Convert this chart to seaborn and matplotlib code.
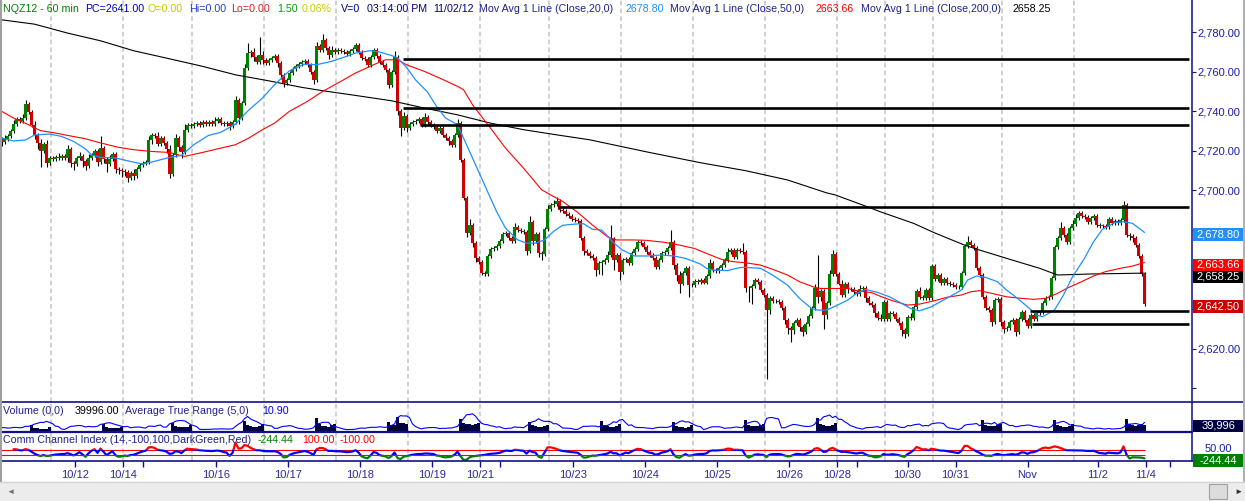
import numpy as np
import pandas as pd
import matplotlib
matplotlib.use("Agg")
import matplotlib.pyplot as plt
from matplotlib.patches import Rectangle
from matplotlib.lines import Line2D
import seaborn as sns

# ---------------- data (NQZ12, 60 min bars) ----------------
first_open = 2726.0
session_len = [17, 24, 23, 24, 24, 24, 24, 23, 24, 24, 24, 24, 16, 16, 23, 24, 24]
has_rth = [1, 1, 1, 1, 1, 1, 1, 1, 1, 1, 1, 1, 0, 0, 1, 1, 1]

close = [
    # 10/11
    2724.5, 2726, 2727.5, 2730, 2733.5, 2736, 2735, 2736.5, 2743.5, 2739.5, 2733, 2728, 2724, 2720, 2723.5, 2714, 2716.5,
    # 10/12
    2716, 2717, 2716.5, 2717.5, 2716.5, 2721, 2714, 2713.5, 2716.5, 2717.5, 2715, 2712.5, 2716.5, 2718, 2720, 2714.5, 2721.5, 2716, 2713.5, 2716, 2718.5, 2711, 2710.5, 2710,
    # 10/15
    2709.5, 2706.5, 2709, 2707.5, 2711, 2713, 2714, 2714.5, 2725.5, 2728, 2727.5, 2723.5, 2726.5, 2724, 2721, 2708.5, 2718, 2726.5, 2722, 2719.5, 2730.5, 2733, 2732.5,
    # 10/16
    2733.5, 2734, 2733, 2734.5, 2733.5, 2734.5, 2733.5, 2735, 2736, 2734, 2733.5, 2734, 2732.5, 2734.5, 2745.5, 2736.5, 2744, 2762, 2769.5, 2770, 2767.5, 2765, 2768.5, 2766,
    # 10/17
    2764.5, 2766, 2767, 2768, 2764.5, 2758.5, 2754.5, 2756, 2759.5, 2761.5, 2763, 2764, 2765, 2765.5, 2763.5, 2760, 2756, 2773, 2771, 2776, 2772, 2768.5, 2771, 2770,
    # 10/18
    2771, 2770.5, 2770, 2769, 2770.5, 2771.5, 2773.5, 2770, 2767, 2766.5, 2763.5, 2767.5, 2771, 2768, 2765, 2763.5, 2761, 2753.5, 2760, 2767.5, 2740, 2731.5, 2737.5, 2731.5,
    # 10/19
    2733.5, 2734.5, 2735, 2736, 2733, 2737, 2734.5, 2733, 2732, 2730, 2731.5, 2728, 2726.5, 2725, 2723, 2728, 2734, 2715.5, 2696, 2678.5, 2682.5, 2673.5, 2666, 2664,
    # 10/22
    2658.5, 2658, 2667, 2670.5, 2671, 2672, 2674.5, 2678, 2678.5, 2676, 2674.5, 2681.5, 2680, 2679.5, 2679, 2669.5, 2684, 2674.5, 2678, 2668.5, 2668, 2680.5, 2690.5,
    # 10/23
    2692.5, 2693, 2694.5, 2690, 2689.5, 2688, 2687, 2685.5, 2685, 2684.5, 2676, 2669.5, 2668.5, 2667, 2666, 2660, 2663.3, 2664, 2665, 2667.4, 2675.3, 2665, 2667.4, 2659,
    # 10/24
    2665, 2665.5, 2663.5, 2668.3, 2670.4, 2674, 2673.4, 2671.6, 2669, 2667.4, 2666, 2661.5, 2665, 2668.4, 2669, 2671, 2674, 2662.3, 2657.3, 2653, 2658.3, 2661, 2652.2, 2652,
    # 10/25
    2654.2, 2654, 2654.7, 2653.5, 2656.8, 2663.5, 2660, 2659.5, 2661, 2662.3, 2665, 2669, 2670, 2666.5, 2670, 2669.5, 2669, 2650.7, 2650.5, 2651.7, 2654.7, 2654, 2649.7, 2647.2,
    # 10/26
    2639.6, 2645.5, 2644.3, 2644, 2643.5, 2640.4, 2634.5, 2630.3, 2629.4, 2632.9, 2634.5, 2631.2, 2628.6, 2632.5, 2636.6, 2640.4, 2650.5, 2646, 2649, 2637, 2643, 2658, 2668, 2658,
    # 10/29
    2653, 2647.2, 2652.7, 2650, 2650, 2648.8, 2647.7, 2650, 2650.5, 2645.7, 2643.3, 2642, 2638, 2635.6, 2635, 2643.8,
    # 10/30
    2635, 2638, 2637.5, 2635, 2633.2, 2629.5, 2627.5, 2636, 2635.5, 2641.3, 2649.2, 2646, 2645.8, 2649.7, 2645.5, 2662,
    # 10/31
    2655.5, 2657.3, 2653.4, 2655.5, 2653.2, 2652.7, 2652.2, 2651.4, 2651, 2658.4, 2672, 2674, 2672.4, 2670.7, 2661, 2657.3, 2646, 2640.4, 2639.5, 2633.7, 2644.6, 2645, 2633.7,
    # 11/1
    2629.8, 2630.3, 2633.7, 2634.5, 2628.6, 2635, 2638.7, 2634.5, 2631.5, 2637, 2635, 2638, 2638.7, 2643.3, 2645.5, 2646.3, 2655.6, 2671.6, 2675.8, 2680.9, 2677.5, 2674, 2681, 2683,
    # 11/2
    2686, 2688.4, 2687, 2686.5, 2684.2, 2686, 2687, 2682.5, 2682, 2682, 2681.5, 2685.4, 2683.5, 2684.5, 2683.5, 2685, 2692.6, 2677.5, 2677, 2676, 2672.4, 2666.9, 2658, 2642.5,
]

# upper / lower shadow beyond the candle body, in points
wick_hi = [
    1, 2, 1, 1, 2, 1, 1, 2, 2, 1, 1, 2, 1, 2, 1, 2, 1,
    1, 1, 2, 1, 1, 2, 1, 1, 1, 2, 1, 1, 2, 1, 1, 1, 6, 1, 1, 2, 1, 1, 1, 1,
    1, 1, 1, 2, 1, 1, 1, 1, 2, 1, 1, 2, 1, 1, 1, 2, 1, 2, 1, 1, 3, 1, 1,
    1, 1, 1, 1, 1, 1, 1, 2, 1, 1, 1, 1, 1, 1, 2, 1, 1, 2, 5, 1, 2, 1, 9, 2,
    1, 1, 1, 1, 1, 1, 1, 1, 1, 1, 1, 1, 1, 1, 1, 1, 1, 2, 1, 3, 1, 1, 2, 1,
    1, 1, 1, 1, 1, 1, 1, 1, 1, 1, 1, 1, 1, 1, 1, 1, 1, 1, 1, 3, 1, 1, 2, 1,
    1, 1, 1, 1, 1, 2, 1, 1, 1, 1, 1, 1, 1, 1, 1, 1, 2, 1, 1, 1, 3, 1, 1, 1,
    1, 1, 1, 1, 1, 1, 1, 1, 1, 1, 1, 2, 1, 1, 1, 1, 3, 1, 1, 1, 1, 1, 2,
    1, 2, 2, 1, 1, 1, 1, 1, 1, 1, 1, 1, 1, 1, 1, 1, 1, 1, 1, 2, 7, 1, 1, 1,
    1, 1, 1, 1, 1, 1, 1, 1, 1, 1, 1, 1, 1, 1, 1, 1, 6, 1, 1, 2, 1, 1, 1, 1,
    1, 1, 1, 1, 1, 2, 1, 1, 1, 1, 1, 2, 1, 1, 1, 1, 4, 1, 1, 1, 1, 1, 1, 1,
    1, 1, 1, 1, 1, 1, 1, 1, 1, 1, 1, 1, 1, 1, 1, 1, 2, 17, 1, 1, 1, 2, 2, 1,
    1, 2, 1, 1, 1, 1, 1, 2, 1, 1, 1, 1, 1, 1, 2, 1,
    1, 1, 1, 1, 1, 1, 1, 1, 2, 1, 1, 2, 1, 1, 1, 1,
    1, 1, 1, 1, 1, 1, 1, 1, 1, 1, 1, 3, 1, 1, 1, 1, 1, 1, 1, 1, 1, 1, 1,
    1, 1, 1, 1, 1, 1, 1, 1, 1, 1, 1, 1, 1, 1, 1, 1, 1, 1, 1, 3, 1, 1, 1, 2,
    2, 1, 1, 1, 1, 1, 1, 1, 1, 1, 1, 1, 1, 1, 1, 1, 2, 1, 1, 1, 1, 1, 1, 1,
]
wick_lo = [
    2, 1, 1, 1, 1, 1, 1, 1, 1, 1, 1, 2, 3, 8, 1, 2, 1,
    1, 1, 1, 1, 1, 2, 2, 3, 1, 1, 3, 2, 1, 1, 1, 2, 1, 2, 4, 1, 1, 2, 2, 3,
    2, 2, 1, 2, 1, 1, 1, 1, 1, 2, 1, 1, 1, 1, 2, 2, 1, 1, 2, 3, 1, 1, 1,
    1, 1, 1, 1, 1, 1, 1, 1, 1, 1, 1, 1, 2, 1, 1, 3, 1, 1, 1, 2, 2, 1, 1, 2,
    1, 1, 1, 1, 2, 2, 2, 1, 1, 1, 1, 1, 1, 1, 1, 1, 2, 1, 1, 1, 1, 2, 1, 1,
    1, 1, 1, 1, 1, 1, 1, 1, 1, 1, 1, 1, 1, 1, 1, 1, 1, 2, 1, 1, 2, 4, 1, 2,
    1, 1, 1, 1, 1, 1, 1, 1, 1, 1, 1, 1, 1, 2, 1, 1, 1, 1, 1, 2, 1, 2, 2, 1,
    1, 1, 1, 1, 1, 1, 1, 1, 1, 1, 1, 1, 1, 1, 1, 2, 1, 2, 1, 2, 3, 1, 1,
    1, 1, 1, 1, 1, 1, 1, 1, 1, 1, 1, 2, 1, 1, 1, 3, 2, 6, 1, 1, 1, 5, 1, 4,
    1, 1, 1, 1, 1, 1, 1, 1, 1, 1, 1, 1, 1, 1, 1, 1, 1, 2, 3, 5, 1, 1, 6, 1,
    1, 1, 1, 1, 1, 1, 1, 1, 1, 1, 1, 1, 1, 1, 1, 1, 1, 2, 7, 8, 1, 1, 1, 1,
    35, 2, 1, 1, 1, 1, 2, 3, 6, 2, 1, 2, 2, 1, 1, 1, 1, 3, 2, 7, 2, 1, 1, 1,
    1, 1, 1, 2, 1, 1, 1, 1, 1, 2, 1, 1, 2, 1, 1, 1,
    1, 1, 1, 1, 1, 3, 2, 1, 1, 1, 1, 1, 1, 1, 1, 1,
    1, 1, 1, 1, 1, 1, 1, 1, 1, 1, 1, 1, 1, 1, 1, 1, 1, 1, 1, 2, 1, 1, 2,
    2, 1, 1, 1, 2, 1, 1, 1, 1, 1, 1, 1, 1, 1, 1, 1, 1, 1, 1, 1, 1, 1, 1, 1,
    1, 1, 1, 1, 1, 1, 1, 1, 1, 1, 1, 1, 1, 1, 1, 1, 1, 1, 2, 2, 1, 1, 1, 1,
]

# volume of the 7 regular-session bars of each day that has one
rth_volume = [
    [38000, 24000, 20000, 17000, 16000, 19000, 27000],
    [48000, 30000, 24000, 21000, 20000, 24000, 31000],
    [52000, 36000, 30000, 27000, 26000, 30000, 40000],
    [62000, 40000, 33000, 30000, 29000, 36000, 44000],
    [85000, 45000, 36000, 33000, 31000, 38000, 47000],
    [60000, 42000, 38000, 90000, 55000, 50000, 48000],
    [75000, 55000, 48000, 45000, 40000, 45000, 55000],
    [60000, 38000, 32000, 30000, 30000, 34000, 42000],
    [65000, 40000, 34000, 30000, 29000, 35000, 45000],
    [58000, 32000, 28000, 26000, 25000, 30000, 38000],
    [70000, 42000, 36000, 33000, 32000, 40000, 48000],
    [82000, 45000, 38000, 34000, 33000, 40000, 50000],
    [72000, 42000, 36000, 33000, 32000, 38000, 46000],
    [70000, 40000, 34000, 31000, 30000, 36000, 44000],
    [78000, 44000, 38000, 36000, 40000, 44000, 39996],
]

# moving average lines, sampled along the chart (bar number, value)
ma20_at = [0, 4, 8, 11, 16, 20, 24, 28, 30, 33, 38, 42, 47, 50, 56, 60, 64, 69, 73, 78,
           82, 87, 91, 96, 101, 105, 110, 114, 118, 123, 126, 130, 132, 135, 138, 142, 145, 148, 152, 155,
           158, 162, 165, 168, 172, 175, 178, 181, 184, 187, 191, 194, 197, 200, 202, 204, 207, 211, 215, 220,
           224, 228, 233, 235, 237, 242, 245, 247, 253, 257, 262, 266, 270, 272, 275, 278, 282, 285, 288, 292,
           296, 300, 303, 306, 310, 313, 316, 320, 322, 325, 328, 332, 335, 338, 342, 345, 347, 351, 354, 357,
           361, 364, 367, 371, 374, 377, 381]
ma20_val = [2726.5, 2725, 2725.5, 2728, 2728.5, 2727.3, 2724.8, 2721, 2718, 2716.7, 2716.4, 2715, 2713.3, 2714.3, 2716.7, 2717.7, 2723, 2727.8, 2729.3, 2733.5,
            2740, 2746.7, 2753.4, 2760.5, 2763.8, 2763.5, 2765.2, 2767.2, 2769.4, 2770.6, 2769.9, 2768.2, 2766.9, 2762.2, 2755.9, 2749.7, 2742.5, 2736.6, 2733.2, 2723.1,
            2713, 2699.5, 2689.4, 2681, 2675.1, 2673.4, 2673.4, 2675, 2679.3, 2682.4, 2683, 2683.2, 2680.4, 2680, 2677, 2673.6, 2669.9, 2666.9, 2666.9, 2667.4,
            2666.9, 2665.7, 2662.8, 2660.7, 2659.8, 2659.5, 2660.7, 2661.2, 2660.7, 2657.3, 2652.2, 2645.5, 2640.4, 2639.6, 2639.6, 2641.6, 2644.6, 2648, 2650, 2648.5,
            2646.3, 2643, 2640.4, 2639.2, 2641.3, 2643.8, 2646.3, 2649.7, 2654.7, 2656.8, 2656.1, 2653.9, 2649.7, 2646.3, 2641.3, 2637.1, 2636.2, 2639.6, 2647.2, 2656.4,
            2665.7, 2674.1, 2680.4, 2683.7, 2684.2, 2683.4, 2678.80]
ma50_at = [0, 4, 9, 13, 18, 22, 28, 33, 39, 44, 50, 56, 61, 67, 72, 78, 82, 87, 91, 96,
           102, 107, 113, 118, 124, 128, 132, 135, 141, 146, 152, 154, 157, 163, 168, 174, 180, 183, 187, 192,
           197, 202, 205, 211, 215, 221, 226, 231, 235, 240, 244, 248, 253, 257, 262, 266, 271, 273, 282, 285,
           290, 293, 297, 302, 306, 311, 315, 320, 323, 326, 331, 335, 340, 344, 348, 352, 355, 360, 364, 368,
           373, 377, 381]
ma50_val = [2740, 2736.6, 2733.2, 2730.2, 2729, 2727.8, 2726.1, 2724, 2721.8, 2720.6, 2719.7, 2719.2, 2717.2, 2719.2, 2721, 2723.1, 2726.1, 2730.7, 2734, 2740,
            2745, 2750, 2755, 2759.3, 2763.5, 2766, 2766, 2763.5, 2760.1, 2756.8, 2752.6, 2750.9, 2743.3, 2731.5, 2721.4, 2711.3, 2700.4, 2697.8, 2694.5, 2689,
            2682.5, 2676.6, 2675, 2675, 2674.8, 2673.8, 2672.4, 2670.7, 2668.2, 2665.2, 2664, 2663.5, 2662.3, 2660.2, 2657.3, 2653.9, 2651.1, 2650.5, 2650.5, 2649.4,
            2648.4, 2646.5, 2644.3, 2642.1, 2642.6, 2644.3, 2646, 2647.2, 2648.8, 2649.4, 2647.7, 2646.3, 2645.5, 2645, 2645.5, 2648, 2650.5, 2653.9, 2656.8, 2659,
            2660.7, 2661.8, 2663.66]
ma200_at = [0, 11, 22, 33, 44, 56, 67, 78, 89, 100, 107, 118, 130, 141, 152, 163, 174, 185, 196, 215,
            233, 248, 262, 275, 278, 288, 293, 304, 311, 321, 326, 337, 346, 352, 363, 381]
ma200_val = [2786.2, 2784, 2779.5, 2775.6, 2770.6, 2766.5, 2762.7, 2758.4, 2755.4, 2752.1, 2750.4, 2748, 2745.3, 2741.6, 2738.2, 2734, 2730.7, 2728.1, 2725.6, 2719.5,
             2714, 2710, 2705.3, 2698.8, 2697.7, 2692.1, 2689.2, 2683.4, 2678.6, 2672.4, 2669.9, 2664.8, 2660.7, 2657.3, 2657.8, 2658.25]

# drawn support / resistance levels: price, first bar
sr_level = [2766.5, 2741.8, 2733.2, 2691.8, 2639.1, 2632.6]
sr_start = [133.8, 133.7, 139.5, 185.5, 342.8, 343.4]

tick_at = [24.5, 40.5, 47, 71.5, 95.5, 119.5, 143.5, 159.5, 166, 190.5, 214.5, 238.5, 262.5, 278.5, 285, 302, 318, 342, 365.5, 381.5, 389.5]
tick_labels = ['10/12', '10/14', '', '10/16', '10/17', '10/18', '10/19', '10/21', '', '10/23', '10/24', '10/25',
               '10/26', '10/28', '', '10/30', '10/31', 'Nov', '11/2', '11/4', '']

last_volume = 39996
last_atr = 10.90
last_cci = -244.44

# ---------------- derived bars and indicators ----------------
c = np.array(close, dtype=float)
o = np.r_[first_open, c[:-1]]
h = np.maximum(o, c) + np.array(wick_hi)
l = np.minimum(o, c) - np.array(wick_lo)
n = len(c)
bars = np.arange(n)

vol = np.zeros(n)
ends = np.cumsum(session_len)
k = 0
for e, r in zip(ends, has_rth):
    if r:
        vol[e - 7:e] = rth_volume[k]
        k += 1

prev_c = np.r_[first_open, c[:-1]]
tr = np.maximum.reduce([h - l, np.abs(h - prev_c), np.abs(l - prev_c)])
atr = pd.Series(tr).rolling(5, min_periods=1).mean().values

tp = pd.Series((h + l + c) / 3)
sma = tp.rolling(14, min_periods=5).mean()
mad = tp.rolling(14, min_periods=5).apply(lambda a: np.mean(np.abs(a - a.mean())), raw=True)
cci = ((tp - sma) / (0.015 * mad)).values

# ---------------- figure ----------------
sns.set_theme(style="white")
plt.rcParams['font.family'] = ['Liberation Sans', 'DejaVu Sans']

W, H = 1245, 501
NAVY = '#10108c'
fig = plt.figure(figsize=(W / 100, H / 100), dpi=100)
fig.patch.set_facecolor('white')


def frac(x0, y0, x1, y1):
    return [x0 / W, 1 - y1 / H, (x1 - x0) / W, (y1 - y0) / H]


def ptext(x, y, s, color, ha='left', size=7.7, z=6):
    fig.text(x / W, 1 - y / H, s, color=color, ha=ha, va='center', fontsize=size, zorder=z)


def pbox(x0, y0, x1, y1, fc, ec='none', z=5):
    fig.add_artist(Rectangle((x0 / W, 1 - y1 / H), (x1 - x0) / W, (y1 - y0) / H,
                             transform=fig.transFigure, fc=fc, ec=ec, lw=0.8, zorder=z))


def pline(x0, x1, y0, y1, color, lw):
    fig.add_artist(Line2D([x0 / W, x1 / W], [1 - y0 / H, 1 - y1 / H], transform=fig.transFigure,
                          color=color, lw=lw, zorder=4))


ax_p = fig.add_axes(frac(0, 0, 1192, 401.7))
ax_v = fig.add_axes(frac(0, 401.7, 1192, 431.7))
ax_c = fig.add_axes(frac(0, 431.7, 1192, 461))

grid_x = ends[:-1] - 0.5
for ax in (ax_p, ax_v, ax_c):
    ax.set_xlim(-0.5, 396.83)
    ax.set_facecolor('white')
    for s in ('top', 'left', 'bottom'):
        ax.spines[s].set_visible(False)
    ax.spines['right'].set_color(NAVY)
    ax.spines['right'].set_linewidth(1.1)
    for g in grid_x:
        ax.axvline(g, color='#d0d0d0', lw=1.4, ls=(0, (2.4, 1.6)), zorder=0)
    ax.tick_params(axis='x', which='both', bottom=False, labelbottom=False)

# price panel
colors = np.where(c >= o, '#008000', '#d00000')
ax_p.vlines(bars, l, h, color='black', lw=0.8, zorder=2)
ax_p.bar(bars, np.maximum(np.abs(c - o), 0.35), bottom=np.minimum(o, c), width=0.78,
         color=colors, lw=0, zorder=3)
sns.lineplot(x=ma200_at, y=ma200_val, ax=ax_p, color='black', lw=0.8, zorder=4)
sns.lineplot(x=ma50_at, y=ma50_val, ax=ax_p, color='#ff0000', lw=0.8, zorder=4)
sns.lineplot(x=ma20_at, y=ma20_val, ax=ax_p, color='#1e90ff', lw=0.9, zorder=4)
ax_p.hlines(sr_level, sr_start, 395.8, color='black', lw=1.9, zorder=5)
ax_p.set_ylim(2593.3, 2796.2)
ax_p.set_xlim(-0.5, 396.83)
ax_p.set_xlabel('')
ax_p.set_ylabel('')
ax_p.yaxis.tick_right()
yt = list(range(2600, 2781, 20))
ax_p.set_yticks(yt)
# 2,600 is cut by the panel edge; 2,640 / 2,660 / 2,680 sit under the value boxes
hidden = (2600, 2640, 2660, 2680)
ax_p.set_yticklabels(['' if v in hidden else f'{v:,.2f}' for v in yt])
ax_p.tick_params(axis='y', direction='out', length=3, width=0.8, color=NAVY,
                 labelcolor='#1c1ca8', labelsize=8, pad=1.2, left=False, right=True)

# volume panel with ATR
ax_v.bar(bars, vol, width=1.0, color='#000040', lw=0, zorder=2)
ax_v.set_ylim(0, 180000)
ax_v.set_yticks([])
ax_a = ax_v.twinx()
sns.lineplot(x=bars, y=atr, ax=ax_a, color='#0000ff', lw=0.8)
ax_a.set_ylim(1, 27)
ax_a.set_xlim(-0.5, 396.83)
ax_a.axis('off')

# CCI panel
ax_c.hlines([100, -100], -0.5, n - 1, color='#ff0000', lw=0.8, zorder=2)
for lo_, hi_, col in ((100, 5000, '#ff0000'), (-100, 100, '#0000ff'), (-5000, -100, '#008000')):
    ln, = ax_c.plot(bars, cci, color=col, lw=1.6, zorder=3)
    ln.set_clip_path(Rectangle((-10, lo_), 1000, hi_ - lo_, transform=ax_c.transData))
ax_c.set_ylim(-340, 832)
ax_c.set_yticks([])
ax_c.set_xticks(tick_at)
ax_c.set_xticklabels(tick_labels)
ax_c.tick_params(axis='x', bottom=True, labelbottom=True, direction='out', length=4.5, width=1.0,
                 color=NAVY, labelcolor='#2a2aa0', labelsize=8, pad=2)

# panel separators and frame
pline(0, W, 401.7, 401.7, NAVY, 1.2)
pline(0, 1192, 431.7, 431.7, NAVY, 1.6)
pline(0, W, 461, 461, NAVY, 1.2)
pline(0.6, 0.6, 0, 482, '#a0a0a0', 1.5)
pline(1244, 1244, 0, 482, '#b0b0b0', 1.5)

# header line
header = [
    ("NQZ12 - 60 min", '#008000', 3), ("PC=2641.00", '#0000c0', 85), ("O=0.00", '#c8c800', 148),
    ("Hi=0.00", '#2040c0', 189), ("Lo=0.00", '#d02020', 231), ("1.50", '#00a000', 277),
    ("0.06%", '#c8c800', 302), ("V=0", '#000080', 341), ("03:14:00 PM", '#000080', 367),
    ("11/02/12", '#000080', 433), ("Mov Avg 1 Line (Close,20,0)", '#202090', 479),
    (f"{ma20_val[-1]:.2f}", '#1e90ff', 625), ("Mov Avg 1 Line (Close,50,0)", '#202090', 670),
    (f"{ma50_val[-1]:.2f}", '#ff0000', 816), ("Mov Avg 1 Line (Close,200,0)", '#202090', 861),
    (f"{ma200_val[-1]:.2f}", '#000000', 1013),
]
for s, col, x in header:
    ptext(x, 9.5, s, col)

ptext(3, 410.5, "Volume (0,0)", '#202090')
ptext(75, 410.5, f"{last_volume:.2f}", '#000000')
ptext(125, 410.5, "Average True Range (5,0)", '#202090')
ptext(262, 410.5, f"{last_atr:.2f}", '#0000ff')
ptext(3, 440, "Comm Channel Index (14,-100,100,DarkGreen,Red)", '#202090')
ptext(258, 440, f"{last_cci:.2f}", '#008000')
ptext(302, 440, "100.00", '#ff0000')
ptext(340, 440, "-100.00", '#ff0000')

# value boxes on the right axis
ptext(1218, 448.5, "50.00", '#1c1ca8', ha='center', size=8, z=4)
boxes = [
    (227.7, 240.5, '#1e90ff', f"{ma20_val[-1]:,.2f}"),
    (258.5, 271, '#ff0000', f"{ma50_val[-1]:,.2f}"),
    (271, 282.5, '#000000', f"{ma200_val[-1]:,.2f}"),
    (300, 312.5, '#cc0000', f"{c[-1]:,.2f}"),
    (420, 432, '#000040', f"{last_volume:,}"),
    (454, 467, '#008000', f"{last_cci:.2f}"),
]
for y0, y1, fc, s in boxes:
    pbox(1193, y0, 1243, y1, fc)
    ptext(1218, (y0 + y1) / 2, s, 'white', ha='center', size=8)

# scrollbar strip
pbox(0, 482, W, H, '#ececec', z=3)
pline(0, W, 482, 482, '#d4d4d4', 1.0)
pbox(1209, 484, 1227, 499, '#dcdcdc', ec='#a0a0a0', z=5)
ptext(6, 492, '\u25c4', '#707070', size=6)
ptext(1234, 492, '\u25ba', '#303030', size=6)

fig.savefig('out.png', dpi=100)
